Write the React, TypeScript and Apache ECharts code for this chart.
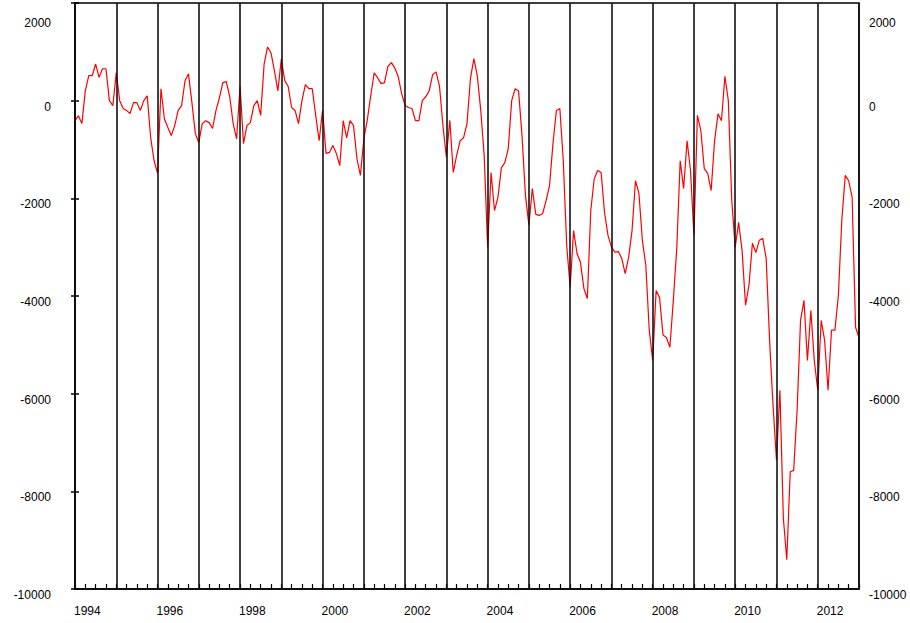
import React, { useEffect, useRef } from "react";
import * as echarts from "echarts";

// Monthly values, starting October 1993 (fiscal-year boundaries every 12 months)
const START_YEAR = 1993;
const START_MONTH_OFFSET = 9; // October

const fy1994 = [-409, -307, -470, 205, 511, 511, 750, 477, 654, 654, 0, -102];
const fy1995 = [570, 0, -160, -200, -265, -40, -40, -200, 0, 100, -757, -1230];
const fy1996 = [-1490, 245, -370, -550, -715, -510, -200, -100, 410, 550, -40, -675];
const fy1997 = [-860, -470, -410, -450, -570, -200, 60, 370, 390, 80, -470, -780];
const fy1998 = [300, -880, -510, -450, -100, 0, -300, 750, 1100, 980, 610, 200];
const fy1999 = [850, 410, 290, -140, -200, -470, 0, 330, 245, 245, -300, -820];
const fy2000 = [-200, -1080, -1060, -920, -1080, -1330, -410, -760, -410, -510, -1190, -1530];
const fy2001 = [-780, -400, 100, 570, 470, 350, 370, 700, 780, 670, 490, 140];
const fy2002 = [-100, -140, -160, -410, -410, 0, 80, 200, 530, 590, 300, -510];
const fy2003 = [-1150, -400, -1470, -1120, -820, -760, -470, 450, 860, 510, -200, -1120];
const fy2004 = [-3000, -1470, -2250, -1980, -1370, -1270, -980, 0, 245, 200, -715, -1940];
const fy2005 = [-2550, -1800, -2330, -2350, -2310, -2045, -1740, -880, -200, -160, -1230, -2970];
const fy2006 = [-3820, -2660, -3130, -3310, -3850, -4050, -2250, -1600, -1430, -1470, -2290, -2760];
const fy2007 = [-3000, -3100, -3090, -3230, -3540, -3210, -2660, -1640, -1900, -2860, -3370, -4700];
const fy2008 = [-5320, -3890, -4030, -4800, -4850, -5050, -4090, -3030, -1230, -1800, -820, -1430];
const fy2009 = [-2760, -300, -610, -1390, -1490, -1840, -820, -270, -410, 500, 0, -2050];
const fy2010 = [-3000, -2490, -3070, -4190, -3780, -2920, -3110, -2860, -2820, -3230, -4910, -6240];
const fy2011 = [-7360, -5930, -8550, -9400, -7600, -7570, -6340, -4500, -4090, -5320, -4300, -5320];
const fy2012 = [-5930, -4500, -4910, -5930, -4700, -4700, -3990, -2450, -1530, -1640, -1980, -4640];
const lastValue = [-4850];

const values: number[] = [
  ...fy1994, ...fy1995, ...fy1996, ...fy1997, ...fy1998, ...fy1999, ...fy2000,
  ...fy2001, ...fy2002, ...fy2003, ...fy2004, ...fy2005, ...fy2006, ...fy2007,
  ...fy2008, ...fy2009, ...fy2010, ...fy2011, ...fy2012, ...lastValue,
];

const yTicks = { min: -10000, max: 2000, step: 2000 };
const FONT = "'Liberation Sans', Arial, sans-serif";

export default function App() {
  const ref = useRef<HTMLDivElement>(null);

  useEffect(() => {
    if (!ref.current) return;
    const chart = echarts.init(ref.current, null, { renderer: "svg" });
    const maxX = values.length - 1;

    const yLabel = (margin: number) => ({
      show: true,
      margin,
      verticalAlign: "top" as const,
      color: "#000",
      fontSize: 12,
      fontFamily: FONT,
      formatter: (v: number) => (v === yTicks.max ? "{top|" + v + "}" : "{n|" + v + "}"),
      rich: {
        top: { padding: [14, 0, 0, 0], color: "#000", fontSize: 12, fontFamily: FONT },
        n: { color: "#000", fontSize: 12, fontFamily: FONT },
      },
    });

    const yAxisBase = {
      type: "value" as const,
      min: yTicks.min,
      max: yTicks.max,
      interval: yTicks.step,
      axisLine: { show: true, lineStyle: { color: "#000", width: 1.5 } },
      axisTick: { show: true, inside: true, length: 4, lineStyle: { color: "#000", width: 1.5 } },
      splitLine: { show: false },
    };

    chart.setOption({
      animation: false,
      backgroundColor: "#fff",
      grid: {
        left: 75,
        right: 51,
        top: 3,
        bottom: 34,
        show: true,
        borderColor: "#000",
        borderWidth: 1.5,
        backgroundColor: "#fff",
      },
      xAxis: [
        {
          type: "value",
          min: 0,
          max: maxX,
          interval: 3,
          axisLine: { show: true, onZero: false, lineStyle: { color: "#000", width: 1.5 } },
          axisTick: { show: true, inside: true, length: 5, lineStyle: { color: "#000", width: 1.2 } },
          splitLine: { show: false },
          axisLabel: {
            show: true,
            margin: 16,
            color: "#000",
            fontSize: 12,
            fontFamily: FONT,
            padding: [0, 0, 0, 4],
            formatter: (v: number) => {
              const mm = v + START_MONTH_OFFSET;
              if (mm % 12 === 0) {
                const yr = START_YEAR + mm / 12;
                if (yr % 2 === 0) return String(yr);
              }
              return "";
            },
          },
        },
        {
          type: "value",
          position: "top",
          min: 0,
          max: maxX,
          interval: 12,
          z: 10,
          axisLine: { show: false },
          axisTick: { show: false },
          axisLabel: { show: false },
          splitLine: { show: true, lineStyle: { color: "#111", width: 1.6 } },
        },
      ],
      yAxis: [
        { ...yAxisBase, position: "left", axisLabel: yLabel(24) },
        { ...yAxisBase, position: "right", axisLabel: { ...yLabel(10), align: "left" } },
      ],
      series: [
        {
          type: "line",
          xAxisIndex: 0,
          yAxisIndex: 0,
          showSymbol: false,
          symbol: "none",
          z: 2,
          lineStyle: { color: "#ff0000", width: 1.2 },
          data: values.map((v, i) => [i, v]),
        },
      ],
    });

    return () => chart.dispose();
  }, []);

  return (
    <div
      ref={ref}
      style={{ position: "fixed", left: 0, top: 0, width: 910, height: 623, background: "#fff" }}
    />
  );
}
